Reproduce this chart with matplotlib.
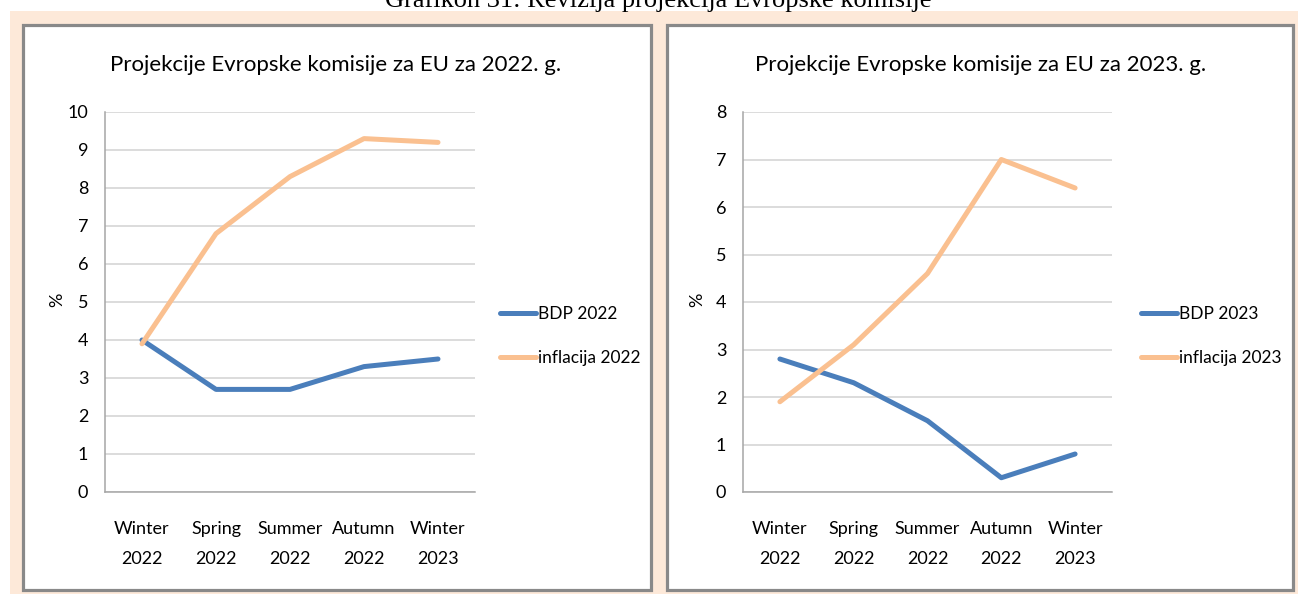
import matplotlib
matplotlib.use("Agg")
import matplotlib.pyplot as plt
from matplotlib.patches import Rectangle
from matplotlib import font_manager as fm

# ---- data ----
categories = ["Winter\n2022", "Spring\n2022", "Summer\n2022", "Autumn\n2022", "Winter\n2023"]
bdp_2022 = [4.0, 2.7, 2.7, 3.3, 3.5]
inflacija_2022 = [3.9, 6.8, 8.3, 9.3, 9.2]
bdp_2023 = [2.8, 2.3, 1.5, 0.3, 0.8]
inflacija_2023 = [1.9, 3.1, 4.6, 7.0, 6.4]
yticks_2022 = list(range(0, 11))
yticks_2023 = list(range(0, 9))
title_main = "Grafikon 31: Revizija projekcija Evropske komisije"
title_2022 = "Projekcije Evropske komisije za EU za 2022. g."
title_2023 = "Projekcije Evropske komisije za EU za 2023. g."

# ---- fonts ----
names = {f.name for f in fm.fontManager.ttflist}
sans = "Liberation Sans Narrow" if "Liberation Sans Narrow" in names else (
    "Lato" if "Lato" in names else "DejaVu Sans")
serif = "Liberation Serif" if "Liberation Serif" in names else "DejaVu Serif"
plt.rcParams["font.family"] = [sans, "DejaVu Sans"]

W, H = 1298, 594
fig = plt.figure(figsize=(W / 100, H / 100), dpi=100)
fig.patch.set_facecolor("white")

def fx(px):
    return px / W

def fy(py):
    return 1 - py / H

BLUE = "#4A7EBB"
ORANGE = "#FAC090"
PEACH = "#FDE9D9"
BORDER = "#898989"
GRID = "#D9D9D9"

# peach background
fig.patches.append(Rectangle((fx(10), 0), 1 - fx(10), fy(11), transform=fig.transFigure,
                             facecolor=PEACH, edgecolor="none", zorder=0))
# white panels with grey border
for x0, x1 in [(23, 651), (667, 1293)]:
    fig.patches.append(Rectangle((fx(x0), fy(590)), fx(x1) - fx(x0), fy(25) - fy(590),
                                 transform=fig.transFigure, facecolor="white",
                                 edgecolor=BORDER, linewidth=2.3, zorder=0.5))

# main (clipped) title
fig.text(fx(658), fy(7), title_main, family=serif, fontsize=19, ha="center", va="baseline",
         color="black")

panels = [
    dict(x0=105, x1=475, bdp=bdp_2022, inf=inflacija_2022, yt=yticks_2022,
         title=title_2022, tx=336, lab_bdp="BDP 2022", lab_inf="inflacija 2022",
         legx=500, pctx=57),
    dict(x0=743, x1=1112, bdp=bdp_2023, inf=inflacija_2023, yt=yticks_2023,
         title=title_2023, tx=981, lab_bdp="BDP 2023", lab_inf="inflacija 2023",
         legx=1141, pctx=697),
]

FS = 13
for p in panels:
    ax = fig.add_axes([fx(p["x0"]), fy(492), fx(p["x1"]) - fx(p["x0"]), fy(112) - fy(492)])
    ax.set_zorder(2)
    ax.set_facecolor("white")
    x = list(range(len(categories)))
    ax.plot(x, p["bdp"], color=BLUE, lw=3.6, label=p["lab_bdp"], solid_capstyle="round",
            solid_joinstyle="round", zorder=3)
    ax.plot(x, p["inf"], color=ORANGE, lw=3.6, label=p["lab_inf"], solid_capstyle="round",
            solid_joinstyle="round", zorder=3)
    ax.set_xlim(-0.5, len(categories) - 0.5)
    ax.set_ylim(p["yt"][0], p["yt"][-1])
    ax.set_yticks(p["yt"])
    ax.set_xticks(x)
    ax.set_xticklabels(categories, fontsize=FS, linespacing=2.05)
    ax.tick_params(axis="y", length=0, pad=12, labelsize=FS)
    ax.tick_params(axis="x", length=0, pad=21)
    ax.grid(axis="y", color=GRID, lw=1.3)
    ax.set_axisbelow(True)
    for s in ["top", "right"]:
        ax.spines[s].set_visible(False)
    for s in ["left", "bottom"]:
        ax.spines[s].set_color("#A6A6A6")
        ax.spines[s].set_linewidth(1.1)
    leg = ax.legend(loc="center left", bbox_to_anchor=(fx(p["legx"]), fy(336)),
                    bbox_transform=fig.transFigure, frameon=False, fontsize=12.5,
                    handlelength=2.1, handletextpad=0.1, labelspacing=1.6,
                    borderpad=0, borderaxespad=0)
    fig.text(fx(p["pctx"]), fy(300), "%", rotation=90, fontsize=13, ha="center", va="center",
             zorder=3)
    fig.text(fx(p["tx"]), fy(65), p["title"], fontsize=16, ha="center", va="center", zorder=3)

fig.savefig("out.png", dpi=100)
